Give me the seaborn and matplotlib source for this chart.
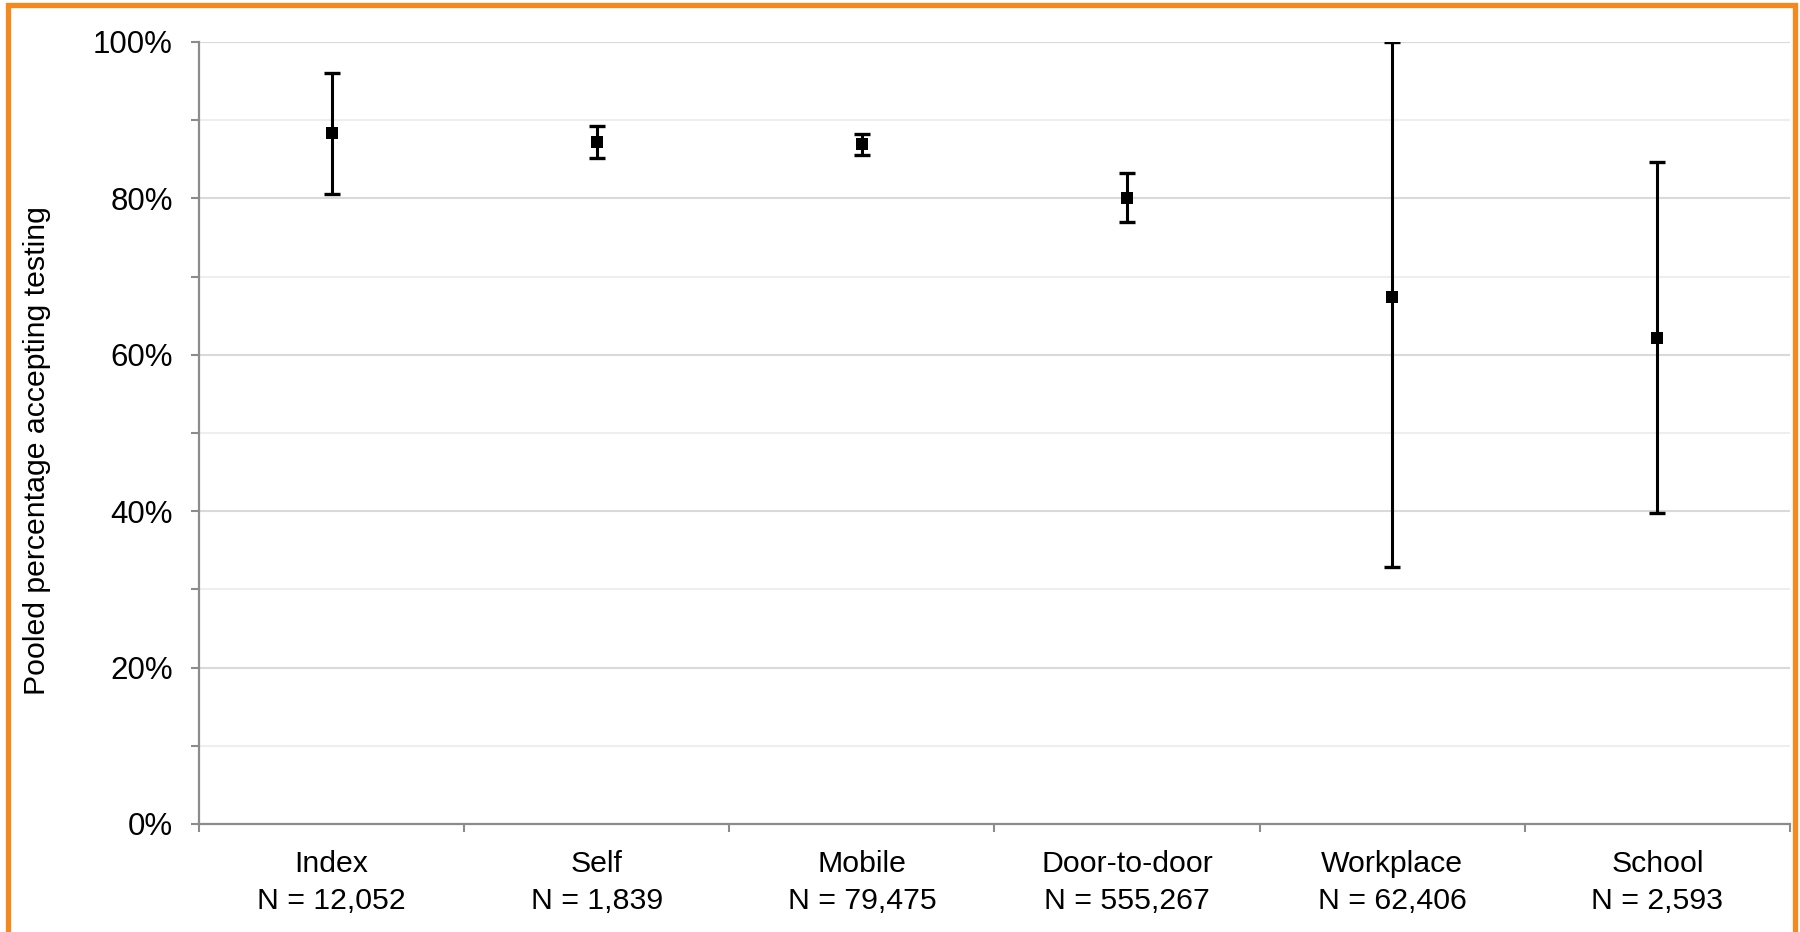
import matplotlib
matplotlib.use("Agg")
import matplotlib.pyplot as plt
from matplotlib.patches import Rectangle
from matplotlib.ticker import FixedLocator, MultipleLocator, FuncFormatter, NullFormatter
import numpy as np
import pandas as pd
import seaborn as sns

# Pooled acceptance of testing by delivery strategy
strategies = ["Index", "Self", "Mobile", "Door-to-door", "Workplace", "School"]
sample_sizes = ["12,052", "1,839", "79,475", "555,267", "62,406", "2,593"]
pooled_pct = [88.3, 87.2, 86.9, 80.1, 67.4, 62.2]
ci_low = [80.6, 85.2, 85.6, 77.0, 32.9, 39.8]
ci_high = [96.0, 89.3, 88.2, 83.2, 100.0, 84.6]

df = pd.DataFrame({
    "strategy": strategies,
    "pct": pooled_pct,
    "low": ci_low,
    "high": ci_high,
})
df["label"] = [f"{s}\nN = {n}" for s, n in zip(strategies, sample_sizes)]

sns.set_theme(style="white")
plt.rcParams["font.family"] = ["Liberation Sans", "DejaVu Sans"]

fig = plt.figure(figsize=(18, 9.32), dpi=100)
ax = fig.add_axes([0.1106, 0.11588, 0.8838, 0.83906])

# Confidence intervals
yerr = np.vstack([df["pct"] - df["low"], df["high"] - df["pct"]])
ax.errorbar(df["strategy"], df["pct"], yerr=yerr, fmt="none",
            ecolor="black", elinewidth=2.2, capsize=5.8, capthick=2.4,
            zorder=3)

# Pooled estimates
sns.scatterplot(data=df, x="strategy", y="pct", marker="s", s=80,
                color="black", edgecolor="black", linewidth=0, ax=ax,
                zorder=4, legend=False)

n = len(strategies)
ax.set_xlim(-0.5, n - 0.5)
ax.set_ylim(0, 100)

# Category boundaries carry the tick marks, labels sit at the centres
ax.xaxis.set_major_locator(FixedLocator(np.arange(-0.5, n, 1.0)))
ax.xaxis.set_major_formatter(NullFormatter())
ax.xaxis.set_minor_locator(FixedLocator(np.arange(n)))
ax.set_xticklabels(df["label"], minor=True, linespacing=1.38)
ax.tick_params(axis="x", which="major", length=6, width=1.5,
               color="#8c8c8c", direction="out", bottom=True)
ax.tick_params(axis="x", which="minor", length=0, pad=19, labelsize=21.8,
               colors="black")

ax.yaxis.set_major_locator(MultipleLocator(20))
ax.yaxis.set_minor_locator(MultipleLocator(10))
ax.yaxis.set_major_formatter(FuncFormatter(lambda v, p: f"{v:.0f}%"))
ax.tick_params(axis="y", which="both", length=6, width=1.5,
               color="#8c8c8c", direction="out", left=True)
ax.tick_params(axis="y", which="major", pad=13, labelsize=22.5,
               labelcolor="black")

ax.grid(True, axis="y", which="major", color="#d9d9d9", linewidth=1.5)
ax.grid(True, axis="y", which="minor", color="#eeeeee", linewidth=1.5)
ax.grid(False, axis="x", which="both")
ax.set_axisbelow(True)

for side in ("top", "right"):
    ax.spines[side].set_visible(False)
for side in ("left", "bottom"):
    ax.spines[side].set_color("#8c8c8c")
    ax.spines[side].set_linewidth(1.6)

ax.set_xlabel("")
ax.set_ylabel("Pooled percentage accepting testing", fontsize=21.8,
              color="black")
ax.yaxis.set_label_coords(-0.093, 0.478)

# Orange frame around the figure
frame = Rectangle((8 / 1800, -0.05), (1794.5 - 8) / 1800, 1 - 5 / 932 + 0.05,
                  transform=fig.transFigure, fill=False,
                  edgecolor="#F5891E", linewidth=3.8, clip_on=False)
fig.patches.append(frame)

fig.savefig("out.png", dpi=100, facecolor="white")
